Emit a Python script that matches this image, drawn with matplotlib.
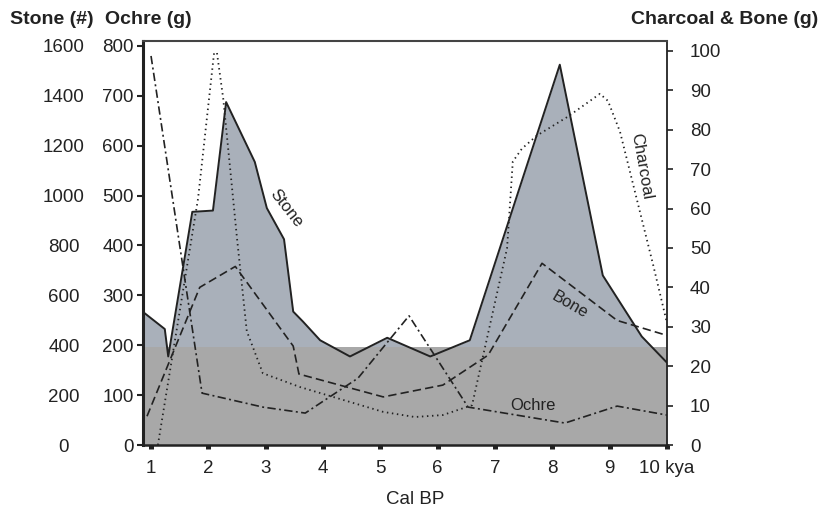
import matplotlib
matplotlib.use("Agg")
import matplotlib.pyplot as plt

plt.rcParams['font.family'] = ['Liberation Sans', 'DejaVu Sans']

# ---- data (kya, values) ----
stone_x = [0.88, 1.24, 1.30, 1.72, 2.08, 2.31, 2.81, 3.02, 3.32, 3.48, 3.65,
           3.95, 4.47, 5.12, 5.87, 6.56, 8.13, 8.88, 9.56, 10.0]
stone = [530, 465, 355, 935, 940, 1375, 1135, 950, 825, 535, 495,
         420, 355, 430, 355, 420, 1525, 680, 435, 330]

ochre_x = [1.0, 1.89, 2.95, 3.69, 4.61, 5.50, 6.53, 8.22, 9.13, 10.0]
ochre = [780, 104, 76, 64, 134, 259, 76, 44, 78, 60]

bone_x = [0.93, 1.85, 2.47, 3.48, 3.58, 5.05, 6.09, 6.88, 7.82, 9.13, 10.0]
bone = [7.3, 40, 45.3, 25.1, 18, 12.2, 15.2, 22.8, 46.1, 31.6, 27.8]

charcoal_x = [1.12, 1.82, 2.10, 2.15, 2.26, 2.50, 2.67, 2.95, 3.60, 5.05, 5.60,
              6.09, 6.60, 7.21, 7.26, 7.31, 7.47, 7.73, 8.27, 8.83, 8.97, 9.18,
              9.76, 10.0]
charcoal = [0, 62.5, 99.5, 99.5, 87.8, 52.4, 28.9, 18.2, 14.7, 8.4, 7.1,
            7.6, 10.1, 49.9, 60.8, 71.9, 75.2, 78.5, 83.3, 89.1, 87.3, 79.5,
            45.6, 30.9]

x_ticks = list(range(1, 11))
x_labels = [str(i) for i in range(1, 10)] + ["10 kya"]
stone_ticks = list(range(0, 1601, 200))
ochre_ticks = list(range(0, 801, 100))
right_ticks = list(range(0, 101, 10))

dark = "#222222"
fs = 13.5

fig = plt.figure(figsize=(8.2, 5.14), dpi=100)
ax = fig.add_axes([143 / 820, 1 - 445 / 514, (667 - 143) / 820, (445 - 41) / 514])

# stone fill on the main axes
ax.fill_between(stone_x, 0, stone, color="#a9b0ba", lw=0, zorder=1)
ax.plot(stone_x, stone, color=dark, lw=1.4, zorder=3)
ax.axhspan(0, 393, color="#a8a8a8", lw=0, zorder=2)
ax.set_xlim(0.86, 10.0)
ax.set_ylim(0, 1620)
ax.set_yticks(stone_ticks)
ax.tick_params(axis="y", length=0, pad=57, labelsize=fs, colors=dark)
for lbl in ax.get_yticklabels():
    lbl.set_horizontalalignment("center")
ax.set_xticks(x_ticks)
ax.set_xticklabels(x_labels)
ax.tick_params(axis="x", length=3, width=3.6, pad=8, labelsize=fs, colors=dark)
for s in ["left", "right", "top"]:
    ax.spines[s].set_visible(False)
ax.spines["bottom"].set_linewidth(1.8)
ax.spines["bottom"].set_color(dark)
ax.text(3.36, 950, "Stone", rotation=-52, ha="center", va="center",
        fontsize=12, color=dark, zorder=4)

# ochre axis (left, with ticks)
ax_o = ax.twinx()
ax_o.yaxis.tick_left()
ax_o.set_ylim(0, 810)
ax_o.set_yticks(ochre_ticks)
ax_o.tick_params(axis="y", length=4.5, width=1.5, pad=2, labelsize=fs, colors=dark)
ax_o.plot(ochre_x, ochre, color=dark, lw=1.2, dashes=[5, 2, 1.2, 2])
ax_o.text(7.66, 80, "Ochre", ha="center", va="center", fontsize=12, color=dark)
for s in ["right", "top", "bottom"]:
    ax_o.spines[s].set_visible(False)
ax_o.spines["left"].set_linewidth(2.2)
ax_o.spines["left"].set_color(dark)

# charcoal & bone axis (right)
ax_r = ax.twinx()
ax_r.set_ylim(0, 102.5)
ax_r.set_yticks(right_ticks)
ax_r.tick_params(axis="y", length=4.5, width=1.2, pad=12, labelsize=fs, colors=dark)
ax_r.plot(bone_x, bone, color=dark, lw=1.2, dashes=[5, 2.5])
ax_r.plot(charcoal_x, charcoal, color=dark, lw=1.3, dashes=[0.8, 2])
ax_r.text(8.31, 35.5, "Bone", rotation=-30, ha="center", va="center",
          fontsize=12, color=dark)
ax_r.text(9.56, 70.6, "Charcoal", rotation=-80, ha="center", va="center",
          fontsize=12, color=dark)
for s in ["left", "bottom"]:
    ax_r.spines[s].set_visible(False)
ax_r.spines["right"].set_linewidth(1.3)
ax_r.spines["right"].set_color(dark)
ax_r.spines["top"].set_linewidth(1.5)
ax_r.spines["top"].set_color("#444444")

# headers and x label
fig.text(10 / 820, 1 - 20 / 514, "Stone (#)", fontsize=14, fontweight="bold",
         ha="left", va="center", color=dark)
fig.text(105 / 820, 1 - 20 / 514, "Ochre (g)", fontsize=14, fontweight="bold",
         ha="left", va="center", color=dark)
fig.text(818 / 820, 1 - 20 / 514, "Charcoal & Bone (g)", fontsize=14,
         fontweight="bold", ha="right", va="center", color=dark)
fig.text(415 / 820, 1 - 500 / 514, "Cal BP", fontsize=fs, ha="center",
         va="center", color=dark)

fig.savefig("out.png", dpi=100)
